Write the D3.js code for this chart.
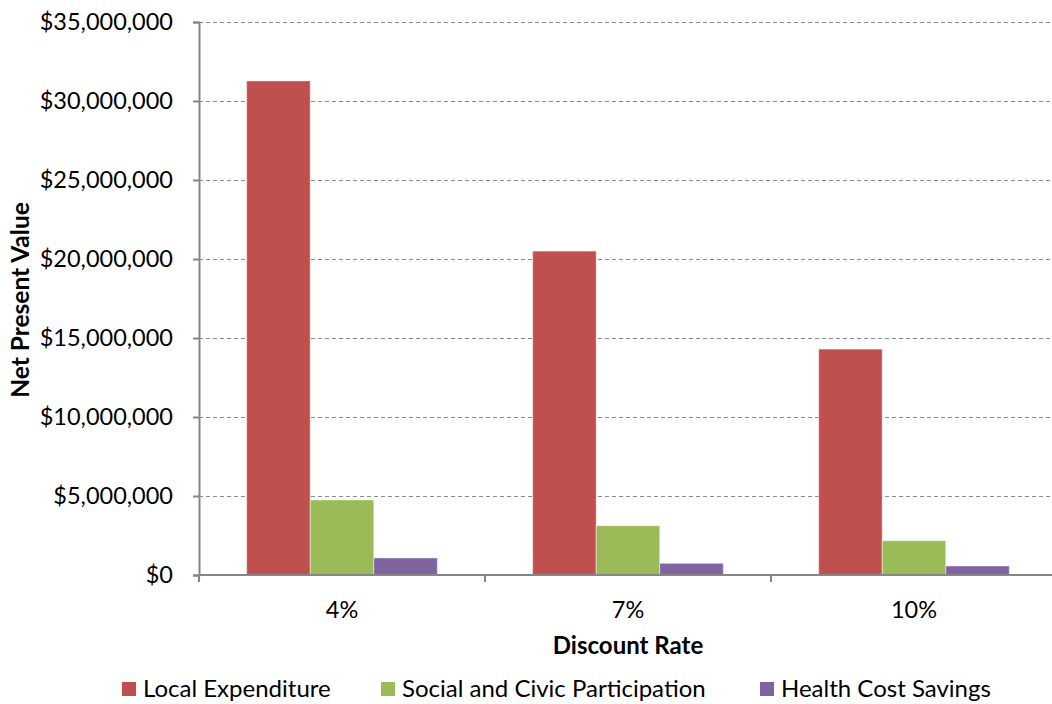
<!DOCTYPE html>
<html>
<head>
<meta charset="utf-8">
<script src="https://cdn.jsdelivr.net/npm/d3@7"></script>
<style>
  html, body { margin: 0; padding: 0; background: #fff; }
  svg { display: block; font-family: Lato, "Open Sans", sans-serif; }
</style>
</head>
<body>
<svg id="chart" width="1052" height="704"></svg>
<script>
// Discount-rate scenarios and the net present value of each benefit stream
const categories = ["4%", "7%", "10%"];
const seriesNames = ["Local Expenditure", "Social and Civic Participation", "Health Cost Savings"];
const localExpenditure = [31270000, 20500000, 14300000];
const socialCivic = [4750000, 3120000, 2170000];
const healthSavings = [1080000, 740000, 570000];
const yTicks = [0, 5000000, 10000000, 15000000, 20000000, 25000000, 30000000, 35000000];
const colors = ["#C0504D", "#9BBB59", "#8064A2"];

const seriesValues = [localExpenditure, socialCivic, healthSavings];
const rows = categories.map((c, i) => ({
  category: c,
  values: seriesNames.map((s, j) => ({ series: s, value: seriesValues[j][i], idx: j }))
}));

const svg = d3.select("#chart");
const margin = { left: 199, right: -5, top: 22, bottom: 129 };
const width = 1052 - margin.left - margin.right;
const height = 704 - margin.top - margin.bottom;
const g = svg.append("g").attr("transform", `translate(${margin.left},${margin.top})`);

const x0 = d3.scaleBand().domain(categories).range([0, width]).paddingInner(0).paddingOuter(0);
// group occupies 3 bars out of 4.5 bar-widths (150% gap)
const groupW = x0.bandwidth() * 3 / 4.5;
const x1 = d3.scaleBand().domain(seriesNames).range([0, groupW]).padding(0);
const y = d3.scaleLinear().domain([0, 35000000]).range([height, 0]);

// gridlines
g.append("g").selectAll("line").data(yTicks.filter(t => t > 0)).join("line")
  .attr("x1", 0).attr("x2", width)
  .attr("y1", d => y(d) + 0.5).attr("y2", d => y(d) + 0.5)
  .attr("stroke", "#8c8c8c").attr("stroke-width", 1).attr("stroke-dasharray", "4,3");

// bars
const groups = g.append("g").selectAll("g").data(rows).join("g")
  .attr("transform", d => `translate(${x0(d.category) + (x0.bandwidth() - groupW) / 2},0)`);
groups.selectAll("rect").data(d => d.values).join("rect")
  .attr("x", d => x1(d.series))
  .attr("y", d => y(d.value))
  .attr("width", x1.bandwidth())
  .attr("height", d => height - y(d.value))
  .attr("fill", d => colors[d.idx])
  .attr("stroke", "#ffffff").attr("stroke-opacity", 0.45).attr("stroke-width", 1);

// y axis
const yAxis = d3.axisLeft(y).tickValues(yTicks).tickSize(6).tickPadding(20)
  .tickFormat(d => "$" + d3.format(",")(d));
const ya = g.append("g").call(yAxis);
ya.select(".domain").attr("stroke", "#868686").attr("stroke-width", 2);
ya.selectAll(".tick line").attr("stroke", "#868686").attr("stroke-width", 2);
ya.selectAll(".tick text").attr("fill", "#000").style("font-size", "23.5px")
  .style("font-family", "Lato, sans-serif");

// x axis: ticks sit on category boundaries
const xa = g.append("g").attr("transform", `translate(0,${height})`);
xa.append("line").attr("x1", 0).attr("x2", width).attr("y1", 0).attr("y2", 0)
  .attr("stroke", "#868686").attr("stroke-width", 2);
const boundaries = categories.map(c => x0(c)).concat([width]);
xa.selectAll("line.tk").data(boundaries).join("line").attr("class", "tk")
  .attr("x1", d => d).attr("x2", d => d).attr("y1", 0).attr("y2", 7)
  .attr("stroke", "#868686").attr("stroke-width", 2);
xa.selectAll("text").data(categories).join("text")
  .attr("x", d => x0(d) + x0.bandwidth() / 2)
  .attr("y", 43)
  .attr("text-anchor", "middle")
  .style("font-size", "23.5px").attr("fill", "#000")
  .text(d => d);

// axis titles
svg.append("text").attr("x", margin.left + width / 2).attr("y", 654)
  .attr("text-anchor", "middle").style("font-size", "24px").style("font-weight", "bold")
  .text("Discount Rate");
svg.append("text").attr("transform", "translate(29,300) rotate(-90)")
  .attr("text-anchor", "middle").style("font-size", "24.5px").style("font-weight", "bold")
  .text("Net Present Value");

// legend
const legendX = [122, 381, 760];
const lg = svg.append("g").selectAll("g").data(seriesNames).join("g")
  .attr("transform", (d, i) => `translate(${legendX[i]},682)`);
lg.append("rect").attr("width", 14).attr("height", 14).attr("fill", (d, i) => colors[i]);
lg.append("text").attr("x", 21).attr("y", 15).style("font-size", "24px").attr("fill", "#000")
  .text(d => d);
</script>
</body>
</html>
